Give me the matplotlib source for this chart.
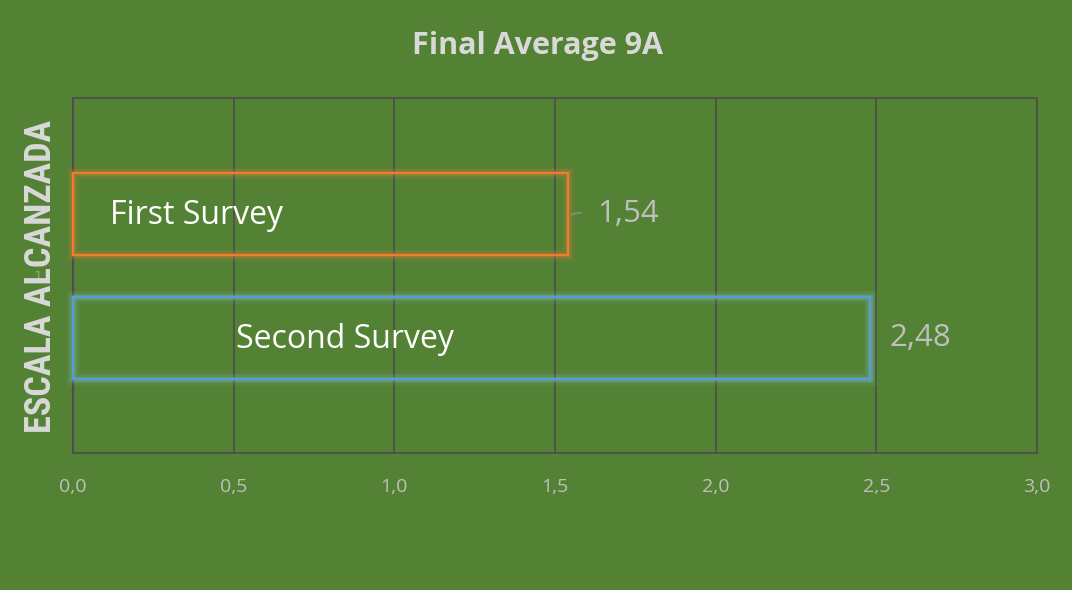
import matplotlib
matplotlib.use("Agg")
import matplotlib.pyplot as plt
from matplotlib.patches import Rectangle
from matplotlib import font_manager

# ---- data ----
series = ["First Survey", "Second Survey"]
values = [1.54, 2.48]
value_labels = ["1,54", "2,48"]
category = "1"
xticks = [0.0, 0.5, 1.0, 1.5, 2.0, 2.5, 3.0]
xtick_labels = ["0,0", "0,5", "1,0", "1,5", "2,0", "2,5", "3,0"]
title = "Final Average 9A"
ylabel = "ESCALA ALCANZADA"

# ---- style ----
BG = "#548235"
GRID = "#4d4d4d"
TXT = "#d9d9d9"
LBL = "#bfbfbf"
edge_colors = ["#ED7D31", "#5B9BD5"]
glow_colors = ["#ED7D31", "#7fc8e0"]
offsets = [0.173, -0.176]
bar_h = 0.231
name_x = [0.115, 0.507]
val_off = [21, 14]

avail = {f.name for f in font_manager.fontManager.ttflist}
cond = [f for f in ["Liberation Sans Narrow", "Roboto Condensed",
                    "DejaVu Sans Condensed", "Roboto"] if f in avail]
cond_family = cond[0] if cond else "DejaVu Sans"

fig = plt.figure(figsize=(10.72, 5.90), dpi=100, facecolor=BG)
ax = fig.add_axes([73/1072, 1-453/590, (1037-73)/1072, (453-98)/590])
ax.set_facecolor(BG)
ax.set_xlim(0, 3.0)
ax.set_ylim(-0.5, 0.5)

for i, (name, v) in enumerate(zip(series, values)):
    yc = offsets[i]
    for lw, a in [(9, 0.08), (6, 0.13), (3.5, 0.22)]:
        ax.add_patch(Rectangle((0, yc - bar_h/2), v, bar_h, fill=False,
                               edgecolor=glow_colors[i], lw=lw, alpha=a,
                               zorder=3, clip_on=False))
    ax.add_patch(Rectangle((0, yc - bar_h/2), v, bar_h, fill=False,
                           edgecolor=edge_colors[i], lw=1.6, zorder=4,
                           clip_on=False))
    ax.text(name_x[i], yc - 0.005, name, color="white", fontsize=23,
            family="Open Sans", va="center", ha="left", zorder=5)
    ax.annotate(value_labels[i], xy=(v, yc), xytext=(val_off[i], 0),
                textcoords="offset points", color=LBL, fontsize=22.5,
                family="Open Sans", va="center", ha="left", zorder=5)

# leader line for first label
ax.annotate("", xy=(values[0] + 0.005, offsets[0] - 0.005),
            xytext=(values[0] + 0.05, offsets[0] + 0.002),
            arrowprops=dict(arrowstyle="-", color="#8c8c8c", lw=1.2,
                            connectionstyle="arc3,rad=0.2"))

ax.set_xticks(xticks)
ax.set_xticklabels(xtick_labels, color=LBL, fontsize=14, family="Open Sans")
ax.set_yticks([0])
ax.set_yticklabels([category], color="#8faa7a", fontsize=10)
ax.tick_params(length=0, pad=18, axis="x")
ax.tick_params(length=0, pad=22, axis="y")
ax.grid(axis="x", color=GRID, lw=1.2, zorder=1)
ax.set_axisbelow(True)
for s in ax.spines.values():
    s.set_color(GRID)
    s.set_linewidth(1.2)
ax.spines["left"].set_linewidth(1.6)

fig.text(537/1072, 1-46/590, title, color=TXT, fontsize=22, fontweight="bold",
         family="Open Sans", ha="center", va="center")
fig.text(41/1072, 1-276/590, ylabel, color=TXT, fontsize=26,
         fontweight="bold", family=cond_family,
         rotation=90, ha="center", va="center")

fig.savefig("out.png", dpi=100, facecolor=BG)
